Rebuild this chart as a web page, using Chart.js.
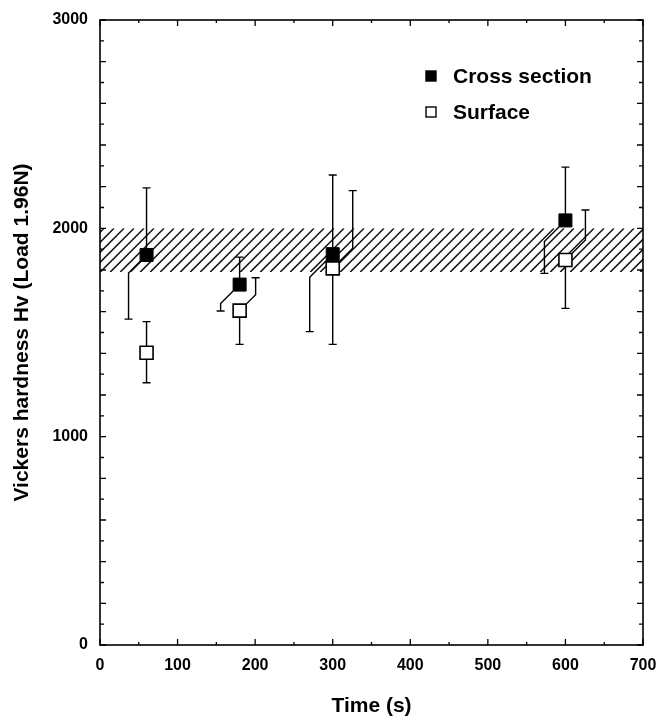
<!DOCTYPE html>
<html>
<head>
<meta charset="utf-8">
<script src="https://cdn.jsdelivr.net/npm/chart.js@4.4.1/dist/chart.umd.min.js"></script>
<style>
  html, body { margin: 0; padding: 0; background: #fff; }
</style>
</head>
<body>
<canvas id="myChart" width="658" height="719"></canvas>
<script>
// values
const times = [60, 180, 300, 600];
const crossSection = [1872, 1730, 1876, 2038];
const crossHigh = [2194, 1862, 2256, 2294];
const crossLow = [1564, 1603, 1504, 1784];
const surface = [1403, 1605, 1808, 1848];
const surfaceHigh = [1552, 1763, 2181, 2088];
const surfaceLow = [1259, 1443, 1443, 1616];
const referenceBand = [1790, 2000]; // hatched range
const xTicks = [0, 100, 200, 300, 400, 500, 600, 700];
const yTicks = [0, 1000, 2000, 3000];
const xMinorStep = 50;
const yMinorStep = 100;

const FONT = "'Liberation Sans', Arial, Helvetica, sans-serif";
const INK = '#000';

// whisker shifts (px) so the bars of both series don't overlap
const barStyle = {
  crossLowShift: [-18, -19, -23, -21],
  surfaceHighShift: [0, 16, 20, 20],
  cap: 4,
  half: 6.5
};

function whisker(ctx, cx, cy, endY, shift, dir) {
  ctx.beginPath();
  let wx = cx;
  if (shift === 0) {
    ctx.moveTo(cx, cy);
    ctx.lineTo(cx, endY);
  } else {
    const s = Math.sign(shift);
    const x0 = cx + s * barStyle.half;
    const y0 = cy + dir * barStyle.half;
    wx = cx + shift;
    const y1 = y0 + dir * Math.abs(wx - x0);
    ctx.moveTo(x0, y0);
    ctx.lineTo(wx, y1);
    ctx.lineTo(wx, endY);
  }
  ctx.moveTo(wx - barStyle.cap, endY);
  ctx.lineTo(wx + barStyle.cap, endY);
  ctx.stroke();
}

const underlay = {
  id: 'underlay',
  beforeDatasetsDraw(chart) {
    const { ctx, chartArea: a, scales: { x, y } } = chart;
    // hatched band
    const yt = y.getPixelForValue(referenceBand[1]);
    const yb = y.getPixelForValue(referenceBand[0]);
    const h = yb - yt;
    ctx.save();
    ctx.beginPath();
    ctx.rect(a.left, yt, a.right - a.left, h);
    ctx.clip();
    ctx.strokeStyle = '#111';
    ctx.lineWidth = 1.5;
    for (let sx = a.left - h + 4; sx < a.right + 10; sx += 10) {
      ctx.beginPath();
      ctx.moveTo(sx, yb);
      ctx.lineTo(sx + h, yt);
      ctx.stroke();
    }
    ctx.restore();

    // error bars
    ctx.save();
    ctx.strokeStyle = INK;
    ctx.lineWidth = 1.4;
    times.forEach((t, i) => {
      const cx = x.getPixelForValue(t);
      let cy = y.getPixelForValue(crossSection[i]);
      whisker(ctx, cx, cy, y.getPixelForValue(crossHigh[i]), 0, -1);
      whisker(ctx, cx, cy, y.getPixelForValue(crossLow[i]), barStyle.crossLowShift[i], 1);
      cy = y.getPixelForValue(surface[i]);
      whisker(ctx, cx, cy, y.getPixelForValue(surfaceHigh[i]), barStyle.surfaceHighShift[i], -1);
      whisker(ctx, cx, cy, y.getPixelForValue(surfaceLow[i]), 0, 1);
    });
    ctx.restore();
  }
};

const overlay = {
  id: 'overlay',
  afterDatasetsDraw(chart) {
    const { ctx, chartArea: a, scales: { x, y } } = chart;
    ctx.save();
    ctx.strokeStyle = INK;
    ctx.lineWidth = 1.6;
    ctx.strokeRect(a.left, a.top, a.right - a.left, a.bottom - a.top);

    // inward tick marks on all four sides
    ctx.lineWidth = 1.3;
    ctx.beginPath();
    for (let v = xTicks[0]; v <= xTicks[xTicks.length - 1]; v += xMinorStep) {
      const px = x.getPixelForValue(v);
      const len = v % 100 === 0 ? 6 : 3;
      ctx.moveTo(px, a.bottom); ctx.lineTo(px, a.bottom - len);
      ctx.moveTo(px, a.top); ctx.lineTo(px, a.top + len);
    }
    for (let v = yTicks[0]; v <= yTicks[yTicks.length - 1]; v += yMinorStep) {
      const py = y.getPixelForValue(v);
      const len = v % 200 === 0 ? 6 : 4;
      ctx.moveTo(a.left, py); ctx.lineTo(a.left + len, py);
      ctx.moveTo(a.right, py); ctx.lineTo(a.right - len, py);
    }
    ctx.stroke();

    // legend
    const items = chart.data.datasets;
    ctx.font = 'bold 21px ' + FONT;
    ctx.textBaseline = 'middle';
    ctx.textAlign = 'left';
    items.forEach((ds, i) => {
      const ly = 76 + i * 36;
      ctx.fillStyle = ds.backgroundColor;
      ctx.fillRect(426, ly - 5, 10, 10);
      ctx.lineWidth = 1.4;
      ctx.strokeRect(426, ly - 5, 10, 10);
      ctx.fillStyle = INK;
      ctx.fillText(ds.label, 453, ly + 1);
    });
    ctx.restore();
  }
};

const tickFont = { family: FONT, size: 16, weight: 'bold' };
const titleFont = { family: FONT, size: 21, weight: 'bold' };

new Chart(document.getElementById('myChart'), {
  type: 'scatter',
  data: {
    datasets: [
      {
        label: 'Cross section',
        data: times.map((t, i) => ({ x: t, y: crossSection[i] })),
        pointStyle: 'rect',
        pointRadius: 9.2,
        backgroundColor: '#000',
        borderColor: '#000',
        borderWidth: 1
      },
      {
        label: 'Surface',
        data: times.map((t, i) => ({ x: t, y: surface[i] })),
        pointStyle: 'rect',
        pointRadius: 9.2,
        backgroundColor: '#fff',
        borderColor: '#000',
        borderWidth: 1.6
      }
    ]
  },
  options: {
    responsive: false,
    animation: false,
    events: [],
    layout: { padding: { left: 0, right: 15, top: 20, bottom: 0 } },
    plugins: { legend: { display: false }, tooltip: { enabled: false } },
    scales: {
      x: {
        type: 'linear',
        min: xTicks[0],
        max: xTicks[xTicks.length - 1],
        afterBuildTicks: s => { s.ticks = xTicks.map(v => ({ value: v })); },
        afterFit: s => { s.height = 74; s.paddingLeft = 0; s.paddingRight = 0; },
        grid: { display: false, drawTicks: false },
        border: { display: false },
        ticks: { color: INK, font: tickFont, padding: 11, maxRotation: 0, autoSkip: false, callback: v => String(v) },
        title: { display: true, text: 'Time (s)', color: INK, font: titleFont, padding: { top: 0, bottom: 0 } }
      },
      y: {
        type: 'linear',
        min: yTicks[0],
        max: yTicks[yTicks.length - 1],
        afterBuildTicks: s => { s.ticks = yTicks.map(v => ({ value: v })); },
        afterFit: s => { s.width = 100; s.paddingTop = 0; s.paddingBottom = 0; },
        grid: { display: false, drawTicks: false },
        border: { display: false },
        ticks: { color: INK, font: tickFont, padding: 12, autoSkip: false, callback: v => String(v) },
        title: { display: true, text: 'Vickers hardness Hv (Load 1.96N)', color: INK, font: titleFont, padding: { top: 10, bottom: 0 } }
      }
    }
  },
  plugins: [underlay, overlay]
});
</script>
</body>
</html>
